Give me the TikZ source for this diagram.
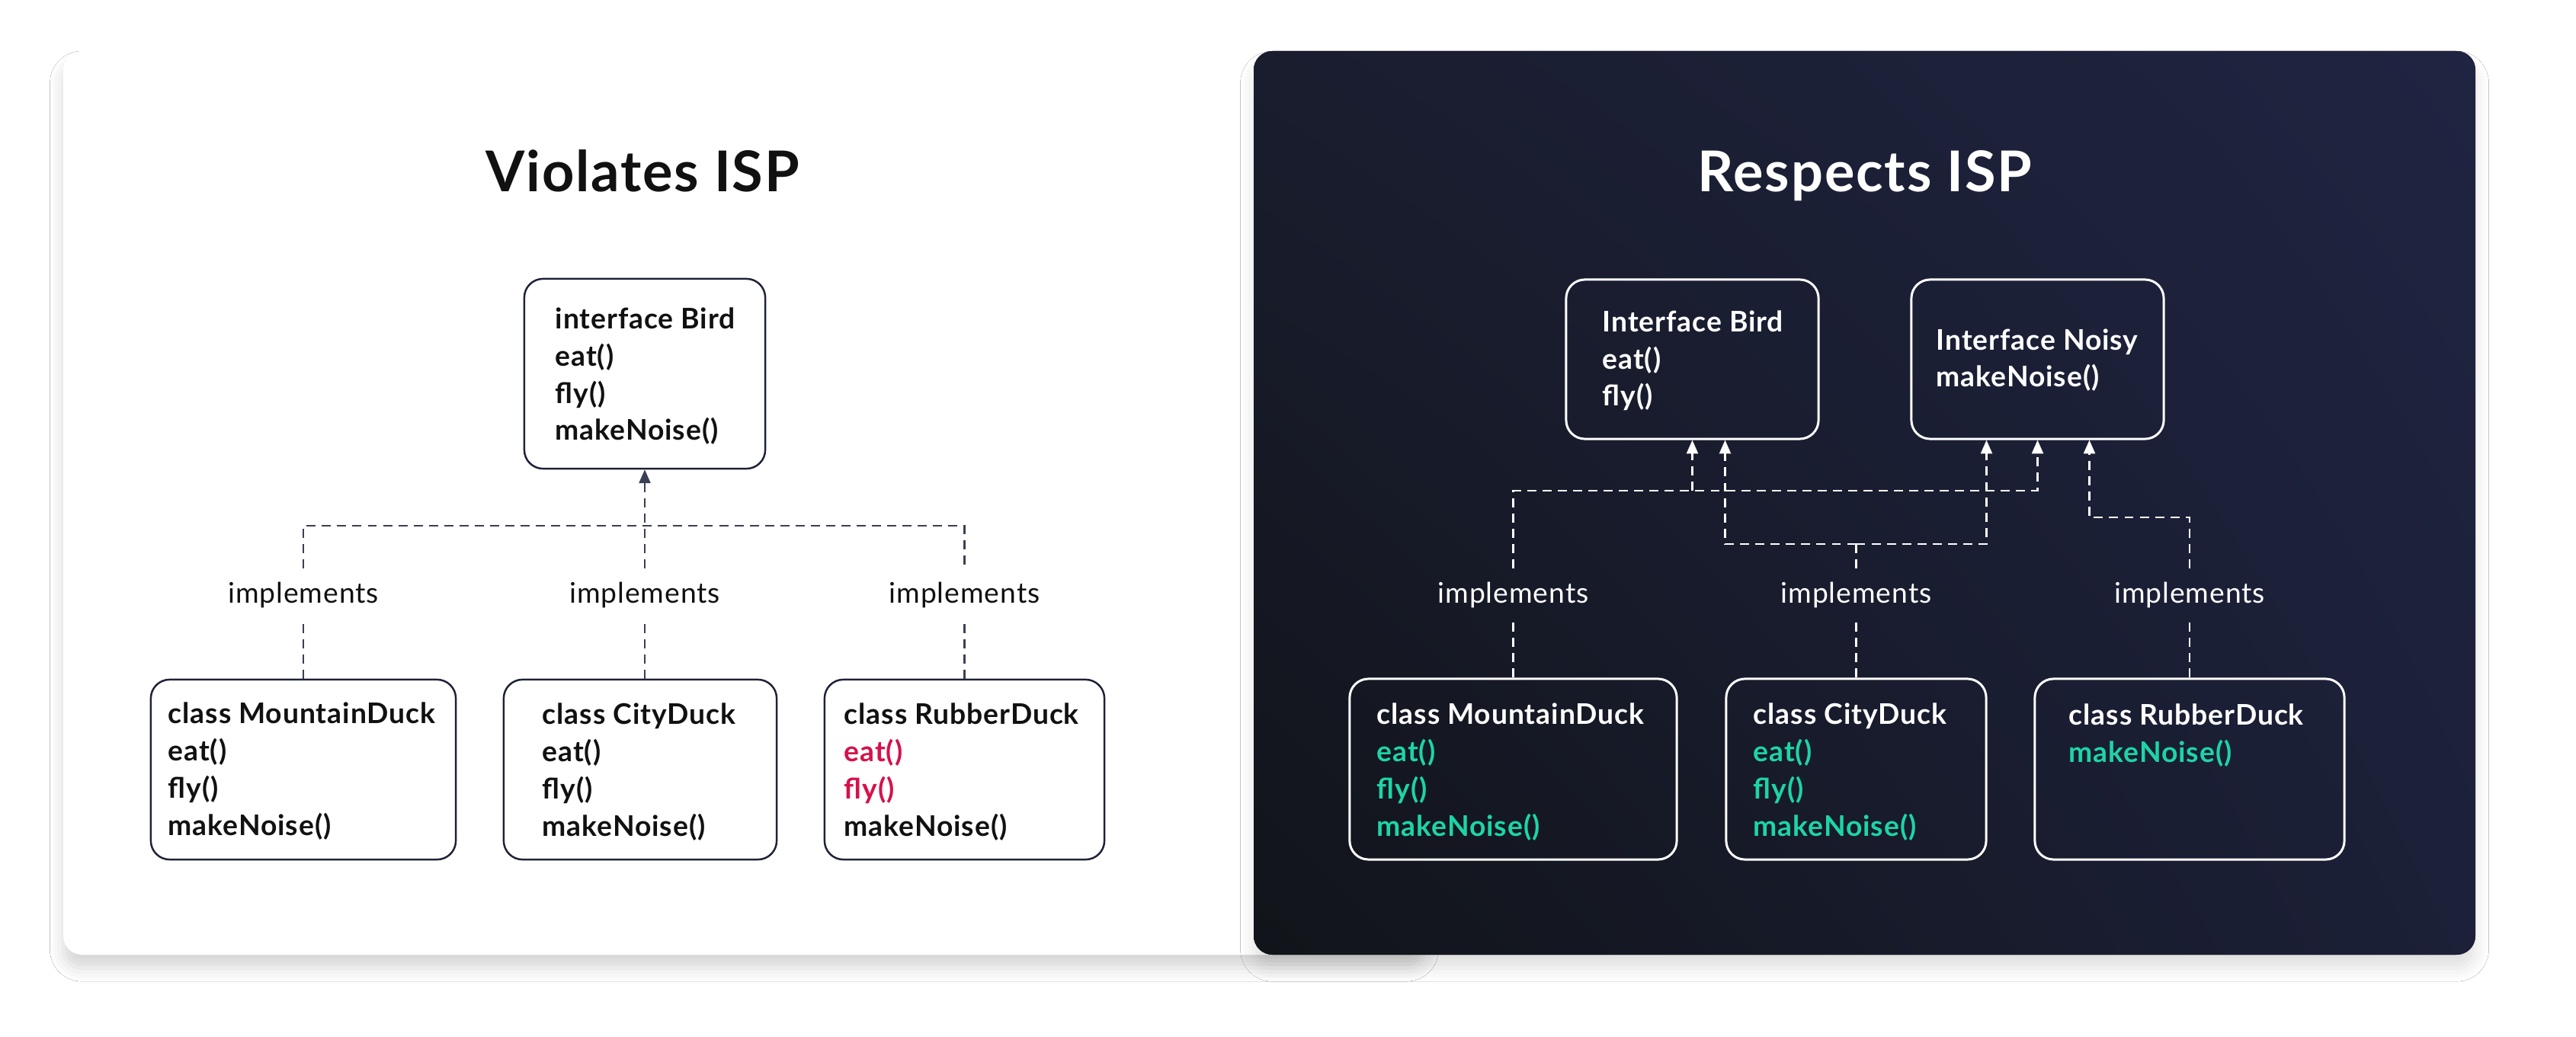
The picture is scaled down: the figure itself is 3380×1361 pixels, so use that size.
\documentclass[tikz,border=0pt]{standalone}
\usepackage{fontspec}
\setmainfont{Lato}[LetterSpace=2.5]
\usetikzlibrary{shadows.blur,arrows.meta,calc,shadings}
\definecolor{inkc}{HTML}{111111}
\definecolor{navyc}{HTML}{1E2238}
\definecolor{dashc}{HTML}{3B3F55}
\definecolor{redc}{HTML}{D6114A}
\definecolor{tealc}{HTML}{1ED4A6}
\definecolor{bgLL}{HTML}{111419}
\definecolor{bgUL}{HTML}{1A1D2E}
\definecolor{bgLR}{HTML}{1C2038}
\definecolor{bgUR}{HTML}{1F2442}
\begin{document}
\begin{tikzpicture}[x=0.01cm,y=-0.01cm,
  lbox/.style={draw=navyc, line width=0.7pt, rounded corners=7pt, inner sep=0},
  dbox/.style={draw=white, line width=0.85pt, rounded corners=7pt, inner sep=0},
  btxt/.style={font=\fontsize{10.6}{13.9}\selectfont\bfseries, align=left, anchor=base west, inner sep=0},
  lbl/.style={font=\fontsize{10.6}{13.9}\selectfont, inner xsep=2pt, inner ysep=5pt},
  ttl/.style={font=\fontsize{21}{25}\selectfont\bfseries, anchor=base},
  ldash/.style={draw=dashc, line width=0.6pt, dash pattern=on 3.4pt off 2.3pt},
  ddash/.style={draw=white, line width=0.6pt, dash pattern=on 3.4pt off 2.3pt},
  ltip/.style={-{Triangle[length=5.1pt,width=4.3pt]}},
]
\useasboundingbox[fill=white] (0,0) rectangle (3380,1361);
% panels
\path[blur shadow={shadow xshift=0pt,shadow yshift=-5pt,shadow blur radius=5pt,shadow opacity=16}, fill=white, rounded corners=7pt] (83,67) rectangle (1870,1253);
\path[blur shadow={shadow xshift=0pt,shadow yshift=-5pt,shadow blur radius=5pt,shadow opacity=12}, fill=bgLL, rounded corners=7pt] (1645,67) rectangle (3248,1253);
\shade[upper left=bgUL, upper right=bgUR, lower left=bgLL, lower right=bgLR, rounded corners=7pt] (1645,67) rectangle (3248,1253);

% titles
\node[ttl, text=inkc] (t1) at (843,252) {Violates ISP};
\node[ttl, text=white] (t2) at (2447,252) {Respects ISP};

% left boxes
\node[lbox, minimum width=3.16cm, minimum height=2.49cm] (lbird) at (846,490.5) {};
\node[lbox, minimum width=4.00cm, minimum height=2.36cm] (lmd) at (398,1010) {};
\node[lbox, minimum width=3.58cm, minimum height=2.36cm] (lcity) at (840,1010) {};
\node[lbox, minimum width=3.67cm, minimum height=2.36cm] (lrub) at (1265.5,1010) {};

% (base anchor = baseline of the last line)
\node[btxt, text=inkc] (tlbird) at (728,578) {interface Bird\\eat()\\fly()\\makeNoise()};
\node[btxt, text=inkc] (tlmd) at (220,1096) {class MountainDuck\\eat()\\fly()\\makeNoise()};
\node[btxt, text=inkc] (tlcity) at (711,1097) {class CityDuck\\eat()\\fly()\\makeNoise()};
\node[btxt, text=inkc] (tlrub) at (1107,1097) {class RubberDuck\\\textcolor{redc}{eat()}\\\textcolor{redc}{fly()}\\makeNoise()};

% right boxes
\node[dbox, minimum width=3.31cm, minimum height=2.09cm] (rbird) at (2220.5,471.5) {};
\node[dbox, minimum width=3.31cm, minimum height=2.09cm] (rnoisy) at (2673.5,471.5) {};
\node[dbox, minimum width=4.29cm, minimum height=2.37cm] (rmd) at (1985.5,1009.5) {};
\node[dbox, minimum width=3.41cm, minimum height=2.37cm] (rcity) at (2435.5,1009.5) {};
\node[dbox, minimum width=4.06cm, minimum height=2.37cm] (rrub) at (2873,1009.5) {};

\node[btxt, text=white] (trbird) at (2102,533) {Interface Bird\\eat()\\fly()};
\node[btxt, text=white] (trnoisy) at (2540,508) {Interface Noisy\\makeNoise()};
\node[btxt, text=white] (trmd) at (1806,1097.5) {class MountainDuck\\\textcolor{tealc}{eat()}\\\textcolor{tealc}{fly()}\\\textcolor{tealc}{makeNoise()}};
\node[btxt, text=white] (trcity) at (2300,1097.5) {class CityDuck\\\textcolor{tealc}{eat()}\\\textcolor{tealc}{fly()}\\\textcolor{tealc}{makeNoise()}};
\node[btxt, text=white] (trrub) at (2714,1000.5) {class RubberDuck\\\textcolor{tealc}{makeNoise()}};

% labels
\node[lbl, text=inkc] (llab1) at (398,781) {implements};
\node[lbl, text=inkc] (llab2) at (846,781) {implements};
\node[lbl, text=inkc] (llab3) at (1265.5,781) {implements};
\node[lbl, text=white] (rlab1) at (1985.5,781) {implements};
\node[lbl, text=white] (rlab2) at (2435.5,781) {implements};
\node[lbl, text=white] (rlab3) at (2873,781) {implements};

% junction levels
\coordinate (lj) at (0,690);
\coordinate (ja) at (0,644);
\coordinate (jb) at (0,714);
\coordinate (jc) at (0,679);
\coordinate (rb2) at ($(rbird.south)+(43,0)$);
\coordinate (rn1) at ($(rnoisy.south)+(-67,0)$);
\coordinate (rn3) at ($(rnoisy.south)+(68,0)$);

% left connectors
\draw[ldash] (lmd.north) -- (llab1.south);
\draw[ldash] (llab1.north) |- (llab3.north |- lj) -- (llab3.north);
\draw[ldash] (lrub.north) -- (llab3.south);
\draw[ldash] (lcity.north -| lbird.south) -- (llab2.south);
\draw[ldash, ltip] (llab2.north) -- (lbird.south);

% right connectors
\draw[ddash] (rmd.north) -- (rlab1.south);
\draw[ddash, ltip] (rlab1.north) |- (rnoisy.south |- ja) -- (rnoisy.south);
\draw[ddash, ltip] (rbird.south |- ja) -- (rbird.south);
\draw[ddash] (rcity.north) -- (rlab2.south);
\draw[ddash] (rlab2.north) -- (rlab2.north |- jb);
\draw[ddash, ltip] (rlab2.north |- jb) -| (rb2);
\draw[ddash, ltip] (rlab2.north |- jb) -| (rn1);
\draw[ddash] (rrub.north) -- (rlab3.south);
\draw[ddash, ltip] (rlab3.north) |- (rn3 |- jc) -- (rn3);
\end{tikzpicture}
\end{document}
